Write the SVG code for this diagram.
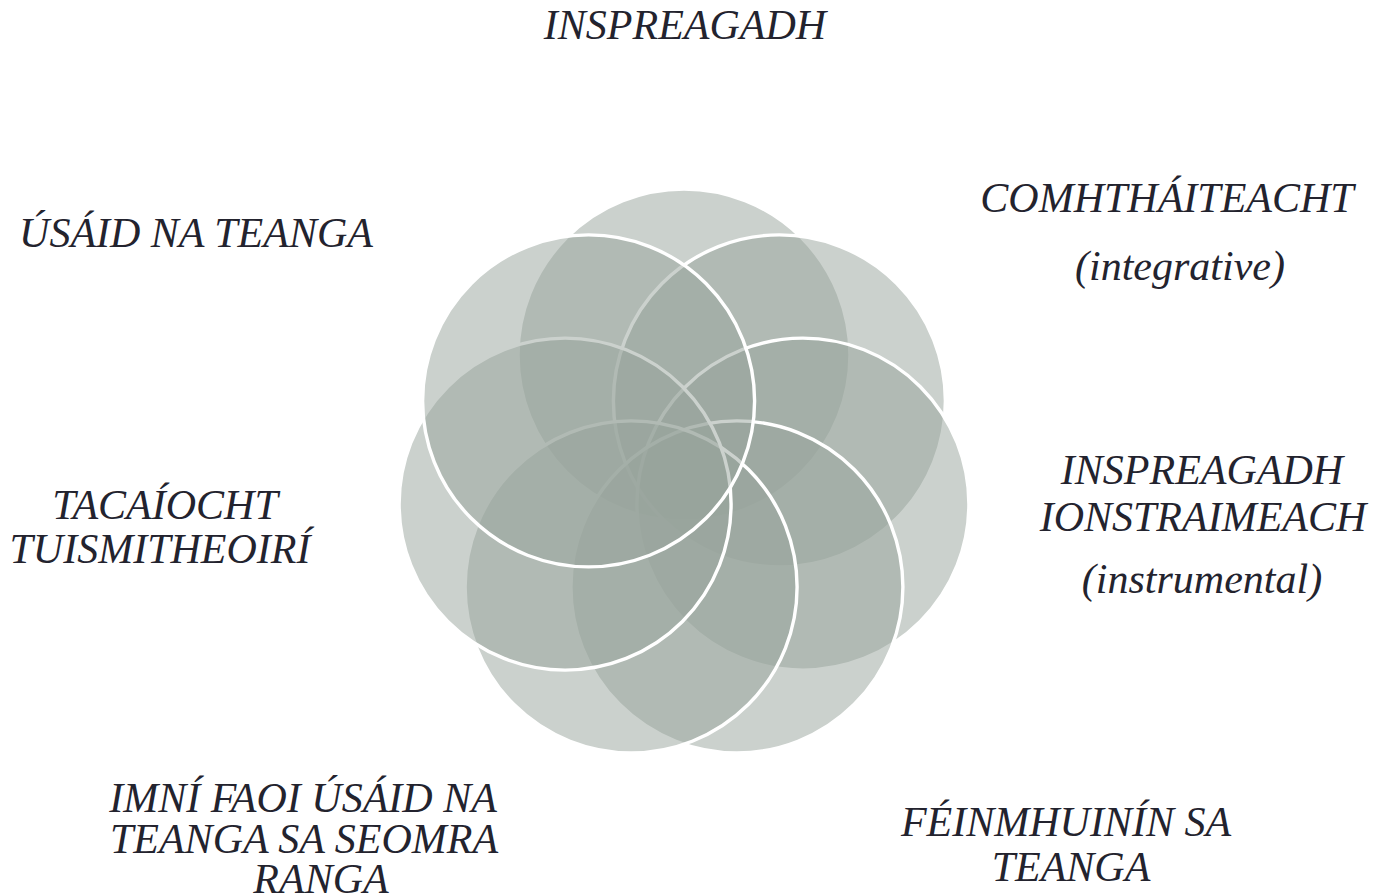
<svg xmlns="http://www.w3.org/2000/svg" width="1373" height="896" viewBox="0 0 1373 896">
<style>
.c{fill:#97a39b;fill-opacity:0.5;stroke:#ffffff;stroke-width:3.4}
.t{font-family:"Liberation Serif","Times New Roman",serif;font-style:italic;font-size:42px;fill:#23232e;text-anchor:middle}
</style>
<rect width="1373" height="896" fill="#ffffff"/>
<g id="circles">
<circle id="c1" class="c" cx="684" cy="355" r="166"/>
<circle id="c2" class="c" cx="779.4" cy="400.9" r="166"/>
<circle id="c3" class="c" cx="802.9" cy="504.1" r="166"/>
<circle id="c4" class="c" cx="736.9" cy="586.9" r="166"/>
<circle id="c5" class="c" cx="631.1" cy="586.9" r="166"/>
<circle id="c6" class="c" cx="565.1" cy="504.1" r="166"/>
<circle id="c7" class="c" cx="588.6" cy="400.9" r="166"/>
</g>
<g id="connectors"></g>
<g id="label-inspreagadh"><text class="t" x="685" y="39">INSPREAGADH</text></g>
<g id="label-comhthaiteacht"><text class="t" x="1167" y="212">COMHTHÁITEACHT</text><text class="t" x="1180" y="280">(integrative)</text></g>
<g id="label-ionstraimeach"><text class="t" x="1202" y="484">INSPREAGADH</text><text class="t" x="1203" y="531">IONSTRAIMEACH</text><text class="t" x="1202" y="593">(instrumental)</text></g>
<g id="label-feinmhuinin"><text class="t" x="1066" y="836">FÉINMHUINÍN SA</text><text class="t" x="1071" y="881">TEANGA</text></g>
<g id="label-imni"><text class="t" x="303" y="812">IMNÍ FAOI ÚSÁID NA</text><text class="t" x="304" y="853">TEANGA SA SEOMRA</text><text class="t" x="321" y="893">RANGA</text></g>
<g id="label-tacaiocht"><text class="t" x="165" y="519">TACAÍOCHT</text><text class="t" x="160" y="563">TUISMITHEOIRÍ</text></g>
<g id="label-usaid"><text class="t" x="196" y="247">ÚSÁID NA TEANGA</text></g>
</svg>
